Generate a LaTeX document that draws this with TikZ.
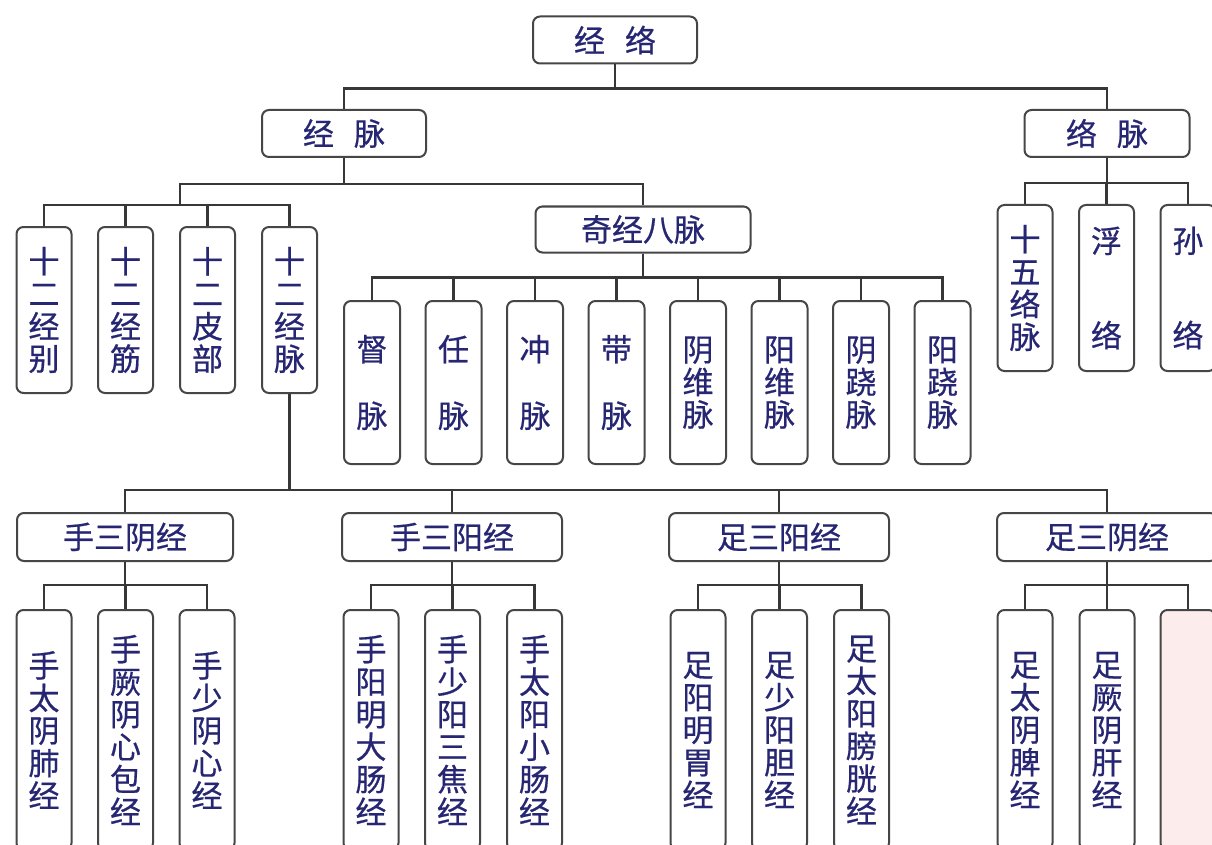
\documentclass[tikz,border=0pt]{standalone}
\usepackage{fontspec}
\newfontfamily\cjk[FakeBold=0.6]{Noto Sans CJK SC}
\definecolor{txtc}{RGB}{38,38,115}
\definecolor{linec}{RGB}{55,55,55}
\definecolor{boxc}{RGB}{70,70,70}
\definecolor{pinkc}{RGB}{253,236,236}
\tikzset{
  box/.style={draw=boxc, line width=2pt, rounded corners=7pt, fill=white, inner sep=0pt,
    text=txtc, font=\cjk\fontsize{31}{32.5}\selectfont, align=center},
  wbox/.style={box, minimum width=#1, minimum height=47pt},
  tbox/.style={box, minimum width=55pt, minimum height=#1},
  conn/.style={draw=linec, line width=2.2pt},
}
\begin{document}
\begin{tikzpicture}[x=1pt,y=-1pt]
\clip (0,0) rectangle (1212,845);
\fill[white] (0,0) rectangle (1212,845);

% level 0 and 1
\node[wbox=164pt] (jl) at (615,40) {经\hspace{20pt}络};
\node[wbox=164pt] (jm) at (344,133.5) {经\hspace{20pt}脉};
\node[wbox=165pt] (lm) at (1107,133.5) {络\hspace{20pt}脉};

% 经脉 children
\coordinate (g4) at (180,205);
\node[tbox=166pt] (b1) at (44,310) {十\\二\\经\\别};
\node[tbox=166pt] (b2) at (125.5,310) {十\\二\\经\\筋};
\node[tbox=166pt] (b3) at (207.5,310) {十\\二\\皮\\部};
\node[tbox=166pt] (b4) at (289.5,310) {十\\二\\经\\脉};
\node[wbox=215pt, minimum height=46pt] (qj) at (643,229.5) {奇经八脉};

% eight extra meridians
\node[tbox=163pt, minimum width=56pt] (e1) at (372,382.5) {督\\[34pt]脉};
\node[tbox=163pt, minimum width=56pt] (e2) at (453.5,382.5) {任\\[34pt]脉};
\node[tbox=163pt, minimum width=56pt] (e3) at (535,382.5) {冲\\[34pt]脉};
\node[tbox=163pt, minimum width=56pt] (e4) at (616.5,382.5) {带\\[34pt]脉};
\node[tbox=163pt, minimum width=56pt] (e5) at (698,382.5) {阴\\维\\脉};
\node[tbox=163pt, minimum width=56pt] (e6) at (779.5,382.5) {阳\\维\\脉};
\node[tbox=163pt, minimum width=56pt] (e7) at (861,382.5) {阴\\跷\\脉};
\node[tbox=163pt, minimum width=56pt] (e8) at (942.5,382.5) {阳\\跷\\脉};

% 络脉 children
\node[tbox=166pt] (l1) at (1025,288) {十\\五\\络\\脉};
\node[tbox=166pt] (l2) at (1106.5,288) {浮\\[62pt]络};
\node[tbox=166pt] (l3) at (1188,288) {孙\\[62pt]络};

% groups
\node[wbox=216pt, minimum height=48pt] (s1) at (125,537) {手三阴经};
\node[wbox=220pt, minimum height=48pt] (s2) at (452,537) {手三阳经};
\node[wbox=220pt, minimum height=48pt] (s3) at (779,537) {足三阳经};
\node[wbox=220pt, minimum height=48pt] (s4) at (1107,537) {足三阴经};

% group children
\node[tbox=240pt] (c11) at (44,730) {手\\太\\阴\\肺\\经};
\node[tbox=240pt] (c12) at (125.5,730) {手\\厥\\阴\\心\\包\\经};
\node[tbox=240pt] (c13) at (207,730) {手\\少\\阴\\心\\经};
\node[tbox=240pt] (c21) at (371,730) {手\\阳\\明\\大\\肠\\经};
\node[tbox=240pt] (c22) at (452.5,730) {手\\少\\阳\\三\\焦\\经};
\node[tbox=240pt] (c23) at (534.5,730) {手\\太\\阳\\小\\肠\\经};
\node[tbox=240pt] (c31) at (698,730) {足\\阳\\明\\胃\\经};
\node[tbox=240pt] (c32) at (779.5,730) {足\\少\\阳\\胆\\经};
\node[tbox=240pt] (c33) at (861.5,730) {足\\太\\阳\\膀\\胱\\经};
\node[tbox=240pt] (c41) at (1025,730) {足\\太\\阴\\脾\\经};
\node[tbox=240pt] (c42) at (1107,730) {足\\厥\\阴\\肝\\经};
\node[tbox=240pt, fill=pinkc] (c43) at (1188,730) {};

% connectors
\draw[conn] (jl.south) -- ++(0,24) -| (jm.north);
\draw[conn] (jl.south) -- ++(0,24) -| (lm.north);

\draw[conn] (jm.south) -- ++(0,26) -| (qj.north);
\draw[conn] (jm.south) -- ++(0,26) -| (g4);
\foreach \b in {b1,b2,b3,b4} \draw[conn] (g4) -| (\b.north);

\foreach \e in {e1,e2,e3,e4,e5,e6,e7,e8} \draw[conn] (qj.south) -- ++(0,24) -| (\e.north);

\foreach \l in {l1,l2,l3} \draw[conn] (lm.south) -- ++(0,25) -| (\l.north);

\foreach \s in {s1,s2,s3,s4} \draw[conn] (b4.south) -- ++(0,96) -| (\s.north);

\foreach \c in {c11,c12,c13} \draw[conn] (s1.south) -- ++(0,23) -| (\c.north);
\foreach \c in {c21,c22,c23} \draw[conn] (s2.south) -- ++(0,23) -| (\c.north);
\foreach \c in {c31,c32,c33} \draw[conn] (s3.south) -- ++(0,23) -| (\c.north);
\foreach \c in {c41,c42,c43} \draw[conn] (s4.south) -- ++(0,23) -| (\c.north);
\end{tikzpicture}
\end{document}
